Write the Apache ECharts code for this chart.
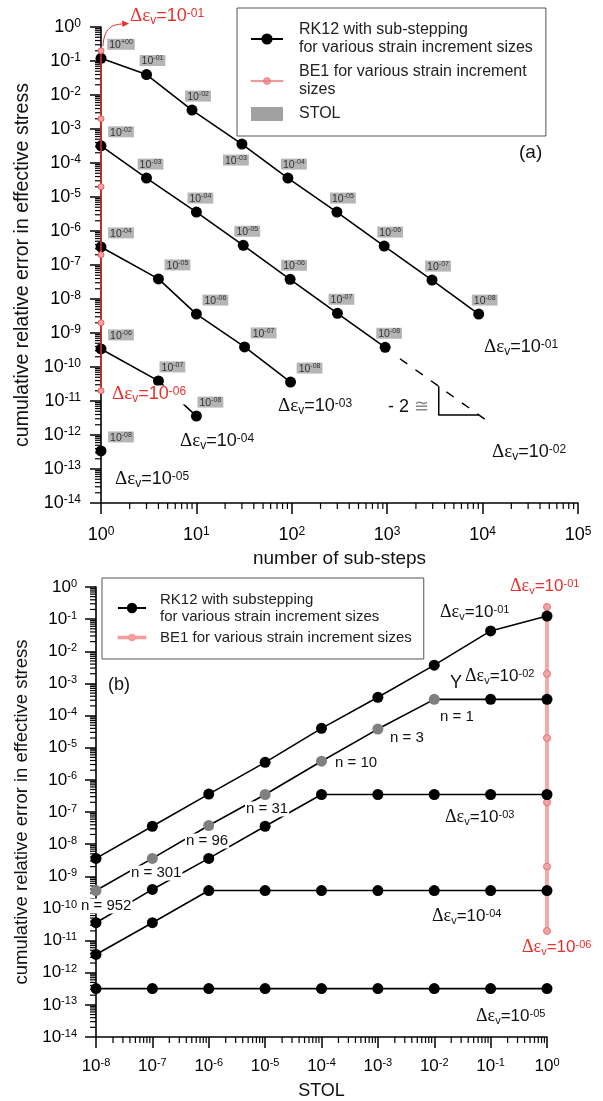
<!DOCTYPE html>
<html><head><meta charset="utf-8">
<script src="https://cdn.jsdelivr.net/npm/echarts@6/dist/echarts.min.js"></script>
<style>html,body{margin:0;padding:0;background:#fff}#c{width:603px;height:1101px}</style>
</head><body><div id="c"></div>
<script>
// ---------- panel (a): error vs number of sub-steps ----------
const subStepsA1 = [1, 3, 9, 30, 91, 297, 930, 2950, 9100];
const errorA1    = [0.12, 0.04, 3.6e-3, 3.6e-4, 3.6e-5, 3.6e-6, 3.6e-7, 3.6e-8, 3.6e-9];
const stolA1     = ['+00', '-01', '-02', '-03', '-04', '-05', '-06', '-07', '-08'];
const subStepsA2 = [1, 3, 10, 31, 96, 301, 952];
const errorA2    = [3.2e-4, 3.6e-5, 3.6e-6, 3.8e-7, 3.8e-8, 3.8e-9, 3.8e-10];
const stolA2     = ['-02', '-03', '-04', '-05', '-06', '-07', '-08'];
const subStepsA3 = [1, 4, 10, 32, 97];
const errorA3    = [3.4e-7, 3.9e-8, 3.6e-9, 3.9e-10, 3.6e-11];
const stolA3     = ['-04', '-05', '-06', '-07', '-08'];
const subStepsA4 = [1, 4, 10];
const errorA4    = [3.4e-10, 3.9e-11, 3.6e-12];
const stolA4     = ['-06', '-07', '-08'];
const subStepsA5 = [1];
const errorA5    = [3.4e-13];
const stolA5     = ['-08'];
const be1SubStepsA = [1, 1, 1, 1, 1, 1];
const be1ErrorA    = [2e-1, 2e-3, 2e-5, 2e-7, 2e-9, 2e-11];
const slopeLineX = [1360, 10800];
const slopeLineY = [1.75e-10, 2.8e-12];
const slopeTriX  = [3470, 3470, 9100];
const slopeTriY  = [2.7e-11, 3.9e-12, 3.9e-12];
const xTickExpA  = [0, 1, 2, 3, 4, 5];
const yTickExp   = [0, -1, -2, -3, -4, -5, -6, -7, -8, -9, -10, -11, -12, -13, -14];

// ---------- panel (b): error vs STOL ----------
const stolB   = [1e-8, 1e-7, 1e-6, 1e-5, 1e-4, 1e-3, 1e-2, 1e-1, 1];
const errorB1 = [3.6e-9, 3.6e-8, 3.6e-7, 3.5e-6, 4e-5, 3.7e-4, 3.7e-3, 0.043, 0.125];
const errorB2 = [3.6e-10, 3.6e-9, 3.8e-8, 3.5e-7, 3.8e-6, 3.8e-5, 3.2e-4, 3.2e-4, 3.2e-4];
const errorB3 = [3.6e-11, 3.9e-10, 3.6e-9, 3.6e-8, 3.5e-7, 3.5e-7, 3.5e-7, 3.5e-7, 3.5e-7];
const errorB4 = [3.7e-12, 3.6e-11, 3.6e-10, 3.6e-10, 3.6e-10, 3.6e-10, 3.6e-10, 3.6e-10, 3.6e-10];
const errorB5 = [3.2e-13, 3.2e-13, 3.2e-13, 3.2e-13, 3.2e-13, 3.2e-13, 3.2e-13, 3.2e-13, 3.2e-13];
const subStepCountB2 = ['n = 952', 'n = 301', 'n = 96', 'n = 31', 'n = 10', 'n = 3', 'n = 1'];
const be1StolB  = [1, 1, 1, 1, 1, 1];
const be1ErrorB = [2.4e-1, 2e-3, 2e-5, 2e-7, 2e-9, 2e-11];
const xTickExpB = [-8, -7, -6, -5, -4, -3, -2, -1, 0];

// ---------- helpers ----------
const F = 'Liberation Sans', SERIF = 'Liberation Serif';
const RK_A = 'RK12 with sub-stepping\nfor various strain increment sizes';
const BE_A = 'BE1 for various strain increment\nsizes';
const RK_B = 'RK12 with substepping\nfor various strain increment sizes';
const BE_B = 'BE1 for various strain increment sizes';
const RED = '#e8302c';
// legend glyphs: a line with a small circle in its middle
const ICON_THIN  = 'path://M0,7.4H32V8.6H0Z M12.5,8A3.5,3.5,0,1,1,19.5,8A3.5,3.5,0,1,1,12.5,8Z';
const ICON_THICK = 'path://M0,6.5H28V9.5H0Z M10.5,8A3.5,3.5,0,1,1,17.5,8A3.5,3.5,0,1,1,10.5,8Z';

function axisRich(bs, ss, pad) {
  return {
    b: {fontSize: bs, fontFamily: F, color: '#000', lineHeight: bs + 1, padding: [pad, 0, pad, 0]},
    s: {fontSize: ss, fontFamily: F, color: '#000', lineHeight: ss + 1, verticalAlign: 'top'}
  };
}
const expFmt = v => '{b|10}{s|' + Math.round(Math.log10(v)) + '}';
const pairs = (xs, ys) => xs.map((x, i) => [x, ys[i]]);

const stolRich = {
  b: {fontSize: 10.5, fontFamily: F, color: '#333', lineHeight: 11, padding: [2, 0, 0, 0]},
  s: {fontSize: 7, fontFamily: F, color: '#333', lineHeight: 8, verticalAlign: 'top'}
};

function rkA(xs, ys, stol, dx, belowIdx) {
  return {
    type: 'line', name: RK_A, xAxisIndex: 0, yAxisIndex: 0, z: 3,
    symbol: 'circle', symbolSize: 11,
    itemStyle: {color: '#000'}, lineStyle: {color: '#000', width: 1.6},
    label: {
      show: true, position: 'top', distance: 3,
      formatter: p => '{b|10}{s|' + stol[p.dataIndex] + '}',
      backgroundColor: '#b5b5b5', padding: [0, 2, 0, 2], rich: stolRich
    },
    data: xs.map((x, i) => {
      const item = {value: [x, ys[i]]};
      if (i === belowIdx) item.label = {position: 'bottom', offset: [-6, 2]};
      else item.label = {offset: [x === 1 ? 20 : dx, 0]};
      return item;
    })
  };
}
function rkB(ys, grayCount) {
  return {
    type: 'line', name: RK_B, xAxisIndex: 1, yAxisIndex: 1, z: 3,
    symbol: 'circle', symbolSize: 11,
    itemStyle: {color: '#000'}, lineStyle: {color: '#000', width: 1.6},
    data: stolB.map((x, i) => i < grayCount
      ? {value: [x, ys[i]], itemStyle: {color: '#808080'}}
      : [x, ys[i]])
  };
}
function minorTicks(ai, xLo, xHi, yLo, yHi) {
  return {
    type: 'custom', xAxisIndex: ai, yAxisIndex: ai, silent: true, clip: false, z: 1,
    data: [[Math.pow(10, xLo), Math.pow(10, yLo)]],
    renderItem: (params, api) => {
      const ch = [];
      const st = {stroke: '#000', lineWidth: 1.2};
      for (let e = xLo; e < xHi; e++) for (let k = 2; k <= 9; k++) {
        const p = api.coord([k * Math.pow(10, e), Math.pow(10, yLo)]);
        ch.push({type: 'line', shape: {x1: p[0], y1: p[1], x2: p[0], y2: p[1] + 6}, style: st});
      }
      for (let e = yLo; e < yHi; e++) for (let k = 2; k <= 9; k++) {
        const p = api.coord([Math.pow(10, xLo), k * Math.pow(10, e)]);
        ch.push({type: 'line', shape: {x1: p[0] - 6, y1: p[1], x2: p[0], y2: p[1]}, style: st});
      }
      return {type: 'group', children: ch};
    }
  };
}
function devText(x, y, exp, S, color, bg) {
  const ss = Math.round(S * 0.66);
  const st = {
    text: '{d|Δε}{v|v}{e|=10}{s|' + exp + '}',
    fill: color, align: 'left', verticalAlign: 'middle',
    rich: {
      d: {fontFamily: SERIF, fontSize: S + 1, lineHeight: S + 1, padding: [2, 0, 4, 0], fill: color},
      v: {fontFamily: F, fontSize: ss, lineHeight: ss + 1, verticalAlign: 'bottom', fill: color},
      e: {fontFamily: F, fontSize: S, lineHeight: S + 1, padding: [2, 0, 4, 0], fill: color},
      s: {fontFamily: F, fontSize: ss, lineHeight: ss + 1, verticalAlign: 'top', fill: color}
    }
  };
  if (bg) { st.backgroundColor = '#fff'; st.padding = [0, 2]; }
  return {type: 'text', x: x, y: y, z: 100, style: st};
}
function plainText(x, y, txt, S, bg) {
  const st = {text: txt, fill: '#111', fontFamily: F, fontSize: S, align: 'left', verticalAlign: 'middle'};
  if (bg) { st.backgroundColor = '#fff'; st.padding = [0, 1]; }
  return {type: 'text', x: x, y: y, z: 100, style: st};
}
function logAxis(grid, exps, labelSize, supSize, margin, name, nameGap, nameSize) {
  const lo = Math.min.apply(null, exps), hi = Math.max.apply(null, exps);
  return {
    gridIndex: grid, type: 'log', logBase: 10,
    min: Math.pow(10, lo), max: Math.pow(10, hi),
    interval: 1, splitNumber: hi - lo,
    axisLine: {show: true, lineStyle: {color: '#000', width: 1.6}},
    axisTick: {show: true, length: 11, lineStyle: {color: '#000', width: 1.5}},
    splitLine: {show: false},
    axisLabel: {margin: margin, interval: 0, hideOverlap: false, formatter: expFmt, rich: axisRich(labelSize, supSize, 2)},
    name: name, nameLocation: 'middle', nameGap: nameGap,
    nameTextStyle: {fontFamily: F, fontSize: nameSize, color: '#111'}
  };
}

const nPos = [[80, 906], [130, 873], [185, 841], [245, 809], [334, 763], [389, 738], [439, 717]];

const option = {
  animation: false,
  backgroundColor: '#fff',
  grid: [
    {left: 101, top: 27, width: 477, height: 476},
    {left: 96, top: 587, width: 451, height: 450}
  ],
  xAxis: [
    logAxis(0, xTickExpA, 18, 12, 23, 'number of sub-steps', 46, 19),
    logAxis(1, xTickExpB, 17, 11, 20, 'STOL', 45, 18)
  ],
  yAxis: [
    logAxis(0, yTickExp, 18, 12, 20, 'cumulative relative error in effective stress', 66, 19.5),
    logAxis(1, yTickExp, 17, 11, 19, 'cumulative relative error in effective stress', 62, 18.5)
  ],
  legend: [
    {
      orient: 'vertical', left: 237, top: 8, padding: 13, itemGap: 6,
      itemWidth: 32, itemHeight: 14, selectedMode: false, symbolKeepAspect: true,
      borderColor: '#555', borderWidth: 1, backgroundColor: '#fff',
      textStyle: {fontFamily: F, fontSize: 16, lineHeight: 18, color: '#222', padding: [0, 0, 0, 11]},
      data: [
        {name: RK_A},
        {name: BE_A, icon: ICON_THIN, itemStyle: {color: '#f2a0a0', borderColor: '#e07070', borderWidth: 0.6}},
        {name: 'STOL', icon: 'rect', itemStyle: {color: '#8a8a8a'}}
      ]
    },
    {
      orient: 'vertical', left: 102, top: 578, padding: [13, 12, 13, 15], itemGap: 4,
      itemWidth: 28, itemHeight: 13, selectedMode: false, symbolKeepAspect: true,
      borderColor: '#555', borderWidth: 1, backgroundColor: '#fff',
      textStyle: {fontFamily: F, fontSize: 15, lineHeight: 17, color: '#222', padding: [0, 0, 0, 9]},
      data: [
        {name: RK_B},
        {name: BE_B, icon: ICON_THICK, itemStyle: {color: '#f5a3a3', borderColor: '#e88a8a', borderWidth: 0.5}}
      ]
    }
  ],
  series: [
    minorTicks(0, 0, 5, -14, 0),
    minorTicks(1, -8, 0, -14, 0),
    rkA(subStepsA1, errorA1, stolA1, 6, 3),
    rkA(subStepsA2, errorA2, stolA2, 4, -1),
    rkA(subStepsA3, errorA3, stolA3, 19, -1),
    rkA(subStepsA4, errorA4, stolA4, 14, -1),
    rkA(subStepsA5, errorA5, stolA5, 20, -1),
    {
      type: 'line', name: BE_A, xAxisIndex: 0, yAxisIndex: 0, z: 4,
      data: pairs(be1SubStepsA, be1ErrorA),
      symbol: 'circle', symbolSize: 6,
      lineStyle: {color: RED, width: 1.5},
      itemStyle: {color: '#f5a3a3', borderColor: '#e06060', borderWidth: 1}
    },
    {
      type: 'line', xAxisIndex: 0, yAxisIndex: 0, symbol: 'none', silent: true,
      data: pairs(slopeLineX, slopeLineY),
      lineStyle: {color: '#000', width: 1.5, type: [9, 10]}
    },
    {
      type: 'line', xAxisIndex: 0, yAxisIndex: 0, symbol: 'none', silent: true,
      data: pairs(slopeTriX, slopeTriY),
      lineStyle: {color: '#000', width: 1.5}
    },
    {type: 'scatter', name: 'STOL', xAxisIndex: 0, yAxisIndex: 0, data: [], itemStyle: {color: '#8a8a8a'}},
    {
      type: 'line', name: BE_B, xAxisIndex: 1, yAxisIndex: 1, z: 2,
      data: pairs(be1StolB, be1ErrorB),
      symbol: 'circle', symbolSize: 7,
      lineStyle: {color: '#f5a0a0', width: 4, opacity: 0.9},
      itemStyle: {color: '#f3a3a3', borderColor: '#e07878', borderWidth: 1}
    },
    rkB(errorB1, 0),
    rkB(errorB2, subStepCountB2.length),
    rkB(errorB3, 0),
    rkB(errorB4, 0),
    rkB(errorB5, 0)
  ],
  graphic: [
    devText(130, 17, '-01', 18, RED, false),
    {type: 'bezierCurve', z: 100, shape: {x1: 103, y1: 46, cpx1: 104, cpy1: 28, cpx2: 112, cpy2: 24, x2: 124, y2: 24},
      style: {stroke: RED, lineWidth: 1, fill: null}},
    {type: 'polygon', z: 100, shape: {points: [[129, 23.5], [122, 20.5], [122.5, 27]]}, style: {fill: RED}},
    devText(110, 395, '-06', 18, RED, true),
    devText(180, 442, '-04', 18, '#111', false),
    devText(115, 480, '-05', 18, '#111', false),
    devText(278, 407, '-03', 18, '#111', false),
    devText(484, 348, '-01', 18, '#111', false),
    devText(492, 453, '-02', 18, '#111', false),
    {type: 'text', x: 388, y: 407, z: 100, style: {
      text: '{t|- 2 }{g|≅}', align: 'left', verticalAlign: 'middle',
      rich: {t: {fontFamily: F, fontSize: 18, fill: '#111'}, g: {fontFamily: F, fontSize: 18, fill: '#888'}}}},
    plainText(519, 153, '(a)', 19, false),
    devText(510, 587, '-01', 17, RED, false),
    devText(440, 613, '-01', 17, '#111', false),
    plainText(450, 683, 'Y', 18, false),
    devText(465, 677, '-02', 17, '#111', false),
    devText(445, 818, '-03', 17, '#111', false),
    devText(432, 917, '-04', 17, '#111', false),
    devText(522, 948, '-06', 17, RED, false),
    devText(476, 1017, '-05', 17, '#111', false),
    plainText(108, 685, '(b)', 18, false)
  ].concat(subStepCountB2.map((t, i) => plainText(nPos[i][0], nPos[i][1], t, 15, true)))
};

const chart = echarts.init(document.getElementById('c'));
chart.setOption(option);
</script>
</body></html>
